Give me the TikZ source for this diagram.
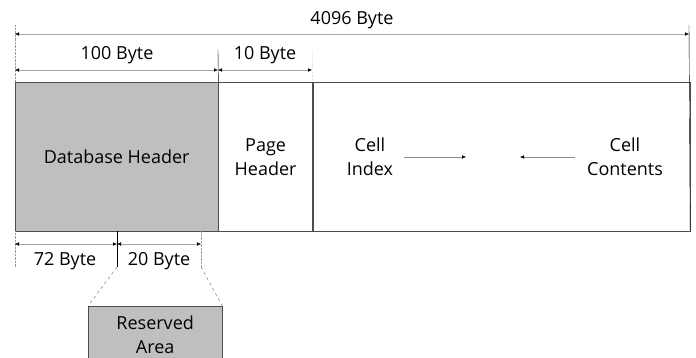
\documentclass[tikz,border=0pt]{standalone}
\usepackage{fontspec}
\setmainfont{Open Sans}
\usetikzlibrary{arrows.meta,positioning}

\begin{document}
\begin{tikzpicture}[x=1pt,y=-1pt,
    font=\fontsize{18}{24}\selectfont,
    box/.style={draw=black!70,minimum height=149pt,inner sep=0pt,align=center,anchor=north west},
    dim/.style={draw=black!35,{Latex[length=4pt,width=3.5pt,black]}-{Latex[length=4pt,width=3.5pt,black]}},
    flow/.style={draw=black!45,-{Latex[length=4pt,width=3.5pt,black]}},
    guide/.style={draw=black!40,densely dotted},
    edge/.style={draw=black},
    lbl/.style={inner sep=0pt}]
  \useasboundingbox (0,0) rectangle (696,358);
  \node[box,fill=black!25,minimum width=203pt] (db) at (15,82) {Database Header};
  \node[box,minimum width=94pt] (pg) at (db.north east) {Page\\Header};
  \node[box,minimum width=377pt] (cc) at (pg.north east) {};
  \node[lbl,align=center] (ci) at (370,157) {Cell\\Index};
  \node[lbl,align=center] (ct) at (625,157) {Cell\\Contents};
  \coordinate (ia) at (466,157);
  \coordinate (ca) at (520,157);
  \draw[flow] (ci.east) ++(11,0) -- (ia);
  \draw[flow] (ct.west) ++(-12,0) -- (ca);
  \coordinate (t0) at (15,25);
  \coordinate (t1) at (689,25);
  \coordinate (t2) at (218,50);
  \coordinate (t3) at (312,50);
  \draw[guide] (t0) -- (db.north west);
  \draw[edge] (t1) -- (cc.south east);
  \draw[edge] (t2) -- (db.north east);
  \draw[guide] (t3) -- (pg.north east);
  \draw[dim] (15,34) -- (689,34);
  \draw[dim] (15,70) -- (218,70);
  \draw[dim] (218,70) -- (312,70);
  \node[lbl] (n4096) at (352,20) {4096 Byte};
  \node[lbl] (n100) at (117,55) {100 Byte};
  \node[lbl] (n10) at (265,55) {10 Byte};
  \coordinate (b0) at (15,267);
  \coordinate (b1) at (117,267);
  \coordinate (b2) at (201,267);
  \draw[guide] (db.south west) -- (b0);
  \draw[edge] (117,231) -- (b1);
  \draw[guide] (201,231) -- (b2);
  \draw[dim] (15,244) -- (117,244);
  \draw[dim] (117,244) -- (201,244);
  \node[lbl] (n72) at (65,261) {72 Byte};
  \node[lbl] (n20) at (159,261) {20 Byte};
  \node[draw=black!70,fill=black!25,minimum width=134pt,minimum height=58pt,anchor=north west,align=center,inner sep=0pt] (rs) at (88,306) {Reserved\\Area};
  \draw[black!60,dashed] (b1) -- (rs.north west);
  \draw[black!60,dashed] (b2) -- (rs.north east);
\end{tikzpicture}
\end{document}
